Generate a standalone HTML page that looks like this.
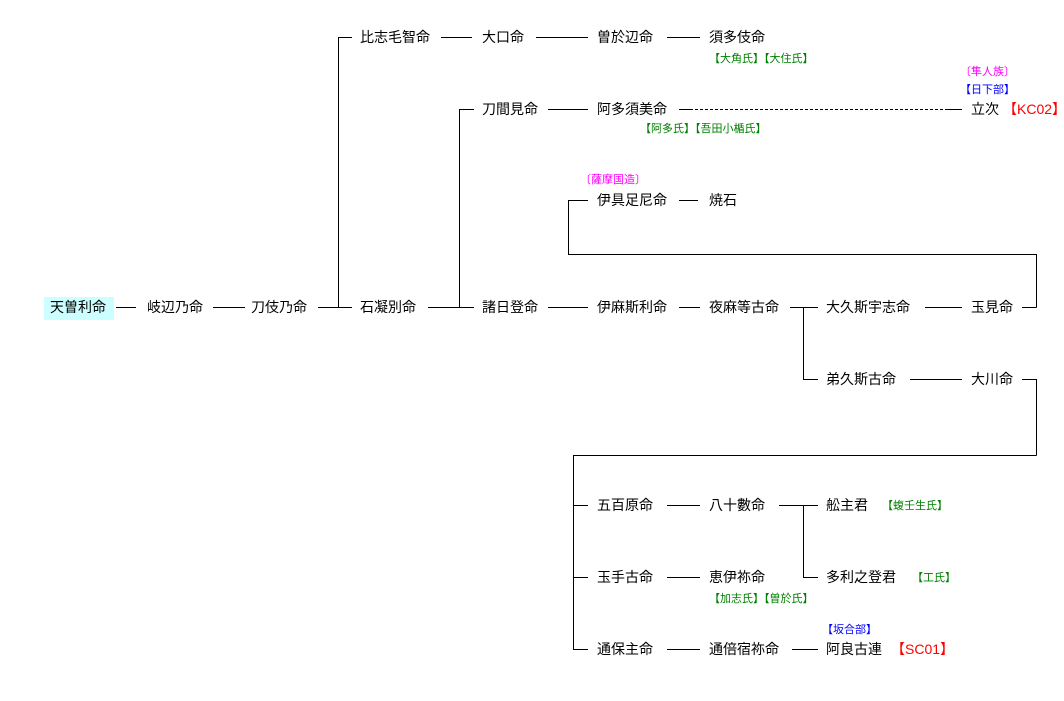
<!DOCTYPE html>
<html><head><meta charset="utf-8"><style>
html,body{margin:0;padding:0;background:#fff;width:1064px;height:701px;overflow:hidden;position:relative}
.t{position:absolute;font-family:"Liberation Sans","Noto Sans CJK JP",sans-serif;font-size:14px;line-height:16px;color:#000;white-space:nowrap;transform:translateY(-8px)}
.s{position:absolute;font-family:"Liberation Sans","Noto Sans CJK JP",sans-serif;font-size:11px;line-height:12px;white-space:nowrap;transform:translateY(-6px)}
.g{color:#008000}.b{color:#0000ff}.m{color:#ff00ff}.r{color:#ff0000;font-size:14px;line-height:16px;transform:translateY(-8px)}
svg{position:absolute;left:0;top:0}
</style></head><body>
<div style="position:absolute;left:44px;top:297px;width:70px;height:23px;background:#ccffff"></div>
<svg width="1064" height="701" stroke="#000" stroke-width="1" fill="none" shape-rendering="crispEdges">
<path d="M116 307.5H136M213 307.5H245M318 307.5H352M338.5 37V307M338 37.5H352M428 307.5H474M459.5 109V307M459 109.5H474"/>
<path d="M441 37.5H472M536 37.5H588M667 37.5H700"/>
<path d="M548 109.5H588M679 109.5H690M946 109.5H962"/>
<path d="M690 109.5H946" stroke-dasharray="3,2"/>
<path d="M568.5 200V254M568 200.5H588M568 254.5H1036.5M1036.5 254V307.5M1022 307.5H1036.5M679 200.5H698"/>
<path d="M548 307.5H588M679 307.5H700M790 307.5H818M803.5 307V379.5M803 379.5H818M925 307.5H962"/>
<path d="M910 379.5H962M1022 379.5H1036.5M1036.5 379V455.5M573 455.5H1036.5M573.5 455V649.5M573 505.5H588M573 577.5H588M573 649.5H588"/>
<path d="M667 505.5H700M779 505.5H818M803.5 505V577.5M803 577.5H818M667 577.5H700M667 649.5H700M792 649.5H818"/>
</svg>
<div class="t" style="left:50px;top:307px">天曽利命</div>
<div class="t" style="left:147px;top:307px">岐辺乃命</div>
<div class="t" style="left:251px;top:307px">刀伎乃命</div>
<div class="t" style="left:360px;top:307px">石凝別命</div>
<div class="t" style="left:360px;top:37px">比志毛智命</div>
<div class="t" style="left:482px;top:37px">大口命</div>
<div class="t" style="left:597px;top:37px">曽於辺命</div>
<div class="t" style="left:709px;top:37px">須多伎命</div>
<div class="s g" style="left:709px;top:59px">【大角氏】【大住氏】</div>
<div class="t" style="left:482px;top:109px">刀間見命</div>
<div class="t" style="left:597px;top:109px">阿多須美命</div>
<div class="s g" style="left:640px;top:129px">【阿多氏】【吾田小楯氏】</div>
<div class="s m" style="left:960px;top:72px">〔隼人族〕</div>
<div class="s b" style="left:960px;top:90px">【日下部】</div>
<div class="t" style="left:971px;top:109px">立次</div>
<div class="s r" style="left:1003px;top:109px">【KC02】</div>
<div class="s m" style="left:580px;top:180px">〔薩摩国造〕</div>
<div class="t" style="left:597px;top:200px">伊具足尼命</div>
<div class="t" style="left:709px;top:200px">焼石</div>
<div class="t" style="left:482px;top:307px">諸日登命</div>
<div class="t" style="left:597px;top:307px">伊麻斯利命</div>
<div class="t" style="left:709px;top:307px">夜麻等古命</div>
<div class="t" style="left:826px;top:307px">大久斯宇志命</div>
<div class="t" style="left:971px;top:307px">玉見命</div>
<div class="t" style="left:826px;top:379px">弟久斯古命</div>
<div class="t" style="left:971px;top:379px">大川命</div>
<div class="t" style="left:597px;top:505px">五百原命</div>
<div class="t" style="left:709px;top:505px">八十數命</div>
<div class="t" style="left:826px;top:505px">舩主君</div>
<div class="s g" style="left:882px;top:506px">【蝮壬生氏】</div>
<div class="t" style="left:597px;top:577px">玉手古命</div>
<div class="t" style="left:709px;top:577px">恵伊祢命</div>
<div class="t" style="left:826px;top:577px">多利之登君</div>
<div class="s g" style="left:912px;top:578px">【工氏】</div>
<div class="s g" style="left:709px;top:599px">【加志氏】【曽於氏】</div>
<div class="s b" style="left:822px;top:630px">【坂合部】</div>
<div class="t" style="left:597px;top:649px">通保主命</div>
<div class="t" style="left:709px;top:649px">通倍宿祢命</div>
<div class="t" style="left:826px;top:649px">阿良古連</div>
<div class="s r" style="left:891px;top:649px">【SC01】</div>
</body></html>
